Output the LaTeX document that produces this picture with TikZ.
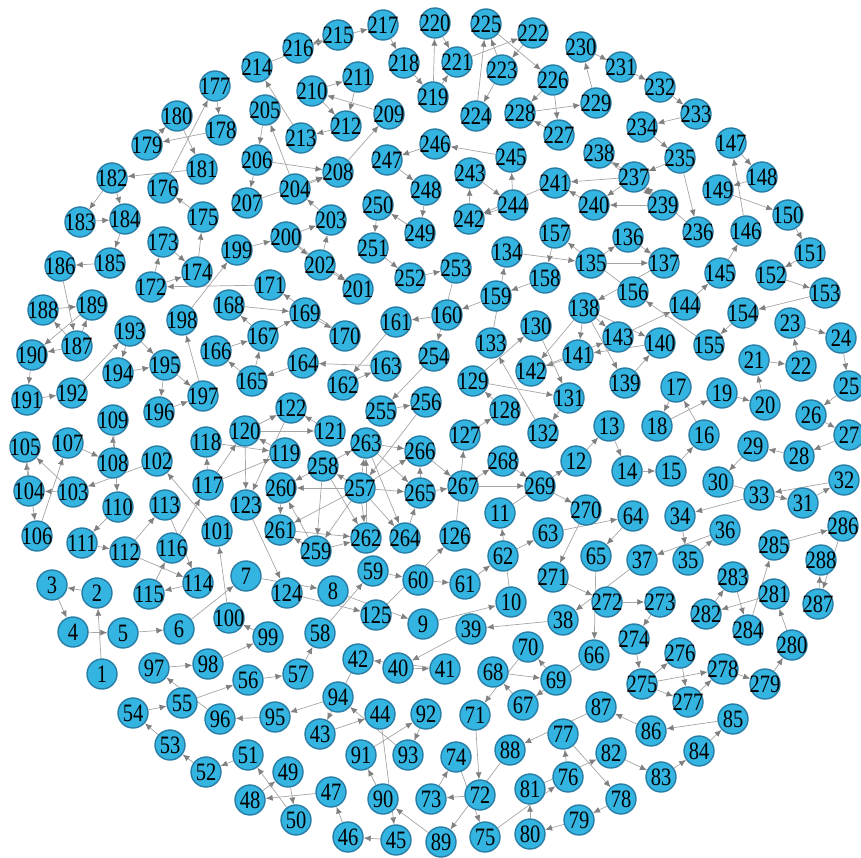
\documentclass[tikz,border=0pt]{standalone}
\usepackage{fontspec}
\usepackage{tikz}
\usetikzlibrary{arrows.meta,backgrounds}
\newfontfamily\lblfont[FakeStretch=0.82]{Liberation Serif}
\definecolor{NodeFill}{RGB}{52,180,224}
\definecolor{NodeRim}{RGB}{40,125,165}
\definecolor{EdgeGrey}{RGB}{165,165,165}
\definecolor{TipGrey}{RGB}{128,128,128}

\begin{document}
\begin{tikzpicture}[x=1pt,y=-1pt,
  vert/.style={circle,draw=NodeRim,fill=NodeFill,line width=1.4pt,minimum size=30pt,inner sep=0pt,
    font=\lblfont\fontsize{25}{25}\selectfont},
  edge/.style={draw=EdgeGrey,line width=0.7pt,-{Latex[length=7pt,width=6pt,color=TipGrey]}}]
  \useasboundingbox (0,0) rectangle (861,857);
  % vertices, placed at the layout positions
  \foreach \n/\x/\y in {
    1/102/674,2/97/593,3/52/585,4/73/632,5/123/633,6/179/629,7/246/576,8/333/591,9/423/624,10/511/602,
    11/500/513,12/576/461,13/609/426,14/627/471,15/671/471,16/704/435,17/676/387,18/657/426,19/722/393,20/765/405,
    21/754/360,22/801/366,23/790/323,24/841/338,25/849/386,26/811/415,27/849/435,28/799/456,29/753/446,30/718/482,
    31/803/503,32/844/480,33/759/495,34/680/516,35/688/560,36/725/530,37/642/560,38/563/620,39/471/629,40/398/668,
    41/445/669,42/358/659,43/320/734,44/380/714,45/396/840,46/348/837,47/331/792,48/250/800,49/288/772,50/296/820,
    51/248/755,52/206/772,53/170/745,54/133/713,55/182/703,56/248/680,57/298/674,58/320/633,59/373/571,60/418/580,
    61/465/584,62/503/556,63/548/533,64/633/516,65/596/556,66/594/655,67/523/705,68/493/672,69/556/680,70/528/647,
    71/475/715,72/480/795,73/431/799,74/456/757,75/485/837,76/568/777,77/563/734,78/621/799,79/579/820,80/530/834,
    81/530/789,82/611/753,83/661/777,84/699/751,85/733/719,86/651/731,87/601/707,88/510/750,89/441/842,90/383/799,
    91/361/755,92/426/714,93/408/755,94/338/697,95/275/717,96/220/719,97/154/668,98/208/664,99/268/637,100/229/618,
    101/217/531,102/157/461,103/73/492,104/29/491,105/25/447,106/37/536,107/68/443,108/113/463,109/113/420,110/118/507,
    111/82/543,112/125/552,113/165/505,114/198/583,115/149/594,116/172/548,117/208/485,118/206/442,119/285/453,120/245/431,
    121/330/431,122/291/408,123/246/505,124/287/593,125/376/615,126/455/536,127/465/435,128/505/410,129/473/381,130/536/326,
    131/569/398,132/543/433,133/491/343,134/507/252,135/591/263,136/628/237,137/664/263,138/584/308,139/625/383,140/660/343,
    141/578/355,142/531/371,143/618/337,144/685/305,145/720/273,146/746/231,147/731/143,148/762/177,149/718/190,150/788/215,
    151/810/253,152/771/275,153/825/293,154/743/313,155/709/345,156/633/292,157/555/233,158/545/278,159/496/296,160/447/315,
    161/396/322,162/343/385,163/386/366,164/303/363,165/252/381,166/216/351,167/263/336,168/229/305,169/305/313,170/345/336,
    171/270/285,172/151/287,173/163/242,174/197/272,175/203/217,176/163/188,177/215/86,178/221/130,179/147/145,180/177/116,
    181/202/169,182/112/178,183/80/222,184/125/219,185/110/263,186/60/266,187/77/346,188/43/310,189/92/305,190/32/355,
    191/27/400,192/72/393,193/130/331,194/118/373,195/165/365,196/159/412,197/203/396,198/182/320,199/237/250,200/286/237,
    201/358/289,202/320/265,203/331/220,204/295/189,205/265/110,206/257/160,207/247/203,208/338/172,209/389/114,210/312/91,
    211/358/77,212/346/126,213/301/138,214/257/67,215/338/35,216/298/48,217/383/25,218/404/63,219/433/97,220/435/23,
    221/457/62,222/533/33,223/502/70,224/476/116,225/486/24,226/553/80,227/559/135,228/520/113,229/596/103,230/581/47,
    231/621/67,232/660/87,233/696/114,234/642/127,235/680/158,236/698/232,237/634/177,238/599/153,239/663/205,240/594/205,
    241/555/183,242/469/219,243/470/173,244/513/205,245/511/157,246/435/144,247/387/160,248/426/190,249/420/233,250/378/205,
    251/373/248,252/410/278,253/456/268,254/434/356,255/381/411,256/426/402,257/360/488,258/323/466,259/316/551,260/281/488,
    261/280/530,262/366/538,263/366/443,264/405/538,265/420/493,266/420/451,267/463/486,268/503/461,269/540/486,270/586/510,
    271/553/577,272/607/602,273/660/602,274/634/639,275/642/684,276/680/653,277/688/702,278/723/669,279/765/684,280/792/645,
    281/774/594,282/706/614,283/733/577,284/748/630,285/774/545,286/843/526,287/818/604,288/821/560}
    \node[vert] (v\n) at (\x,\y) {\makebox[0pt]{\n}};
  % the long path 1 -> 288 (201/202 runs the other way)
  \begin{scope}[on background layer]
    \foreach \a in {1,...,287}{
      \pgfmathtruncatemacro{\b}{\a+1}
      \ifnum\a=201 \draw[edge] (v\b) -- (v\a); \else \draw[edge] (v\a) -- (v\b); \fi
    }
    % extra links
    \foreach \a/\b in {103/105,112/114,117/119,117/120,120/122,120/123,129/131,135/137,
      138/140,138/141,138/142,138/143,165/167,167/169,172/174,182/184,187/189,187/190,
      193/195,195/197,200/202,200/203,204/208,206/208,210/212,219/221,223/225,226/228,
      235/237,237/239,237/240,237/241,244/242,257/259,257/260,257/261,257/262,257/263,
      257/264,257/265,257/266,258/260,258/262,258/263,259/261,259/262,263/265,263/266,
      265/267,267/269,275/277,275/278}
      \draw[edge] (v\a) -- (v\b);
  \end{scope}
\end{tikzpicture}
\end{document}
